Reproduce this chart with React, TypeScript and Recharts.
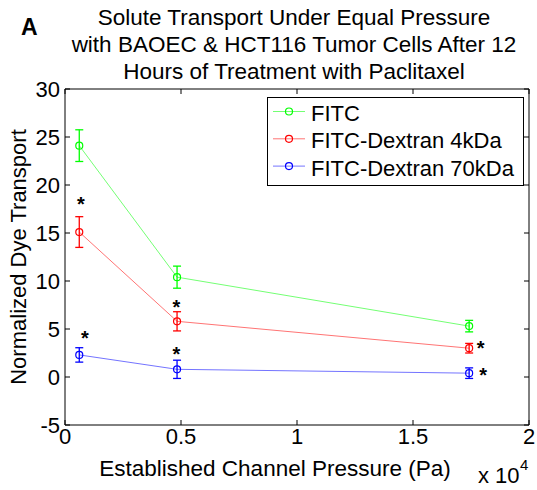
import { ComposedChart, Line, Scatter, XAxis, YAxis, ErrorBar, Legend } from 'recharts'

// channel pressure (Pa) at each measurement
const pressure = [615, 4830, 17420]

// normalized dye transport, mean and error per tracer
const fitc = [24.1, 10.4, 5.3]
const fitcErr = [1.65, 1.15, 0.6]
const dextran4 = [15.1, 5.8, 3.0]
const dextran4Err = [1.6, 1.0, 0.5]
const dextran70 = [2.3, 0.8, 0.4]
const dextran70Err = [0.75, 0.95, 0.55]

const xTicks = [0, 5000, 10000, 15000, 20000]
const yTicks = [-5, 0, 5, 10, 15, 20, 25, 30]

// significance asterisks (pressure, value)
const starP = [690, 4800, 4800, 860, 17920, 18020]
const starV = [18.4, 7.7, 2.85, 4.5, 3.4, 0.6]

const series = [
  { key: 'fitc', name: 'FITC', color: '#00ff00', values: fitc, errors: fitcErr },
  { key: 'd4', name: 'FITC-Dextran 4kDa', color: '#ff0000', values: dextran4, errors: dextran4Err },
  { key: 'd70', name: 'FITC-Dextran 70kDa', color: '#0000ff', values: dextran70, errors: dextran70Err },
]

const rows = pressure.map((p, i) => {
  const row: Record<string, number> = { p }
  series.forEach((s) => {
    row[s.key] = s.values[i]
    row[s.key + 'Err'] = s.errors[i]
  })
  return row
})

const stars = starP.map((p, i) => ({ p, v: starV[i] }))

const font = "'Liberation Sans', Arial, Helvetica, sans-serif"
const tickStyle = { fill: '#000', fontSize: 22, fontFamily: font }
const noLabel = () => <g />

function LegendBox() {
  return (
    <svg width={257} height={89} style={{ display: 'block' }}>
      <rect x={0.5} y={0.5} width={256} height={88} fill="#fff" stroke="#000" />
      {series.map((s, i) => {
        const base = 24 + i * 27.3
        return (
          <g key={s.key}>
            <line x1={6} x2={38} y1={base - 9.5} y2={base - 9.5} stroke={s.color} strokeOpacity={0.55} />
            <circle cx={22} cy={base - 9.5} r={3.5} fill="none" stroke={s.color} strokeWidth={1.2} />
            <text x={44} y={base} fontSize={22} fontFamily={font} fill="#000">
              {s.name}
            </text>
          </g>
        )
      })}
    </svg>
  )
}

export default function App() {
  return (
    <div style={{ position: 'fixed', left: 0, top: 0, width: 537, height: 490, background: '#fff' }}>
      <ComposedChart width={537} height={490} data={rows} margin={{ top: 89, right: 8, bottom: 35, left: 15 }}>
        <XAxis
          xAxisId="x"
          dataKey="p"
          type="number"
          domain={[0, 20000]}
          ticks={xTicks}
          interval={0}
          allowDataOverflow
          tickFormatter={(v: number) => String(v / 10000)}
          tickLine={false}
          tickSize={0}
          tickMargin={3}
          height={30}
          axisLine={{ stroke: '#000' }}
          tick={tickStyle}
        />
        <XAxis xAxisId="xb" dataKey="p" type="number" domain={[0, 20000]} ticks={xTicks} interval={0} allowDataOverflow
          mirror axisLine={false} tickSize={5} tickLine={{ stroke: '#000' }} tick={noLabel} />
        <XAxis xAxisId="xt" orientation="top" dataKey="p" type="number" domain={[0, 20000]} ticks={xTicks} interval={0}
          allowDataOverflow mirror axisLine={{ stroke: '#000' }} tickSize={5} tickLine={{ stroke: '#000' }} tick={noLabel} />
        <YAxis
          yAxisId="y"
          type="number"
          domain={[-5, 30]}
          ticks={yTicks}
          interval={0}
          allowDataOverflow
          width={50}
          tickLine={false}
          tickSize={0}
          tickMargin={5}
          axisLine={{ stroke: '#000' }}
          tick={tickStyle}
        />
        <YAxis yAxisId="yl" type="number" domain={[-5, 30]} ticks={yTicks} interval={0} allowDataOverflow
          mirror axisLine={false} tickSize={5} tickLine={{ stroke: '#000' }} tick={noLabel} />
        <YAxis yAxisId="yr" orientation="right" type="number" domain={[-5, 30]} ticks={yTicks} interval={0}
          allowDataOverflow mirror axisLine={{ stroke: '#000' }} tickSize={5} tickLine={{ stroke: '#000' }} tick={noLabel} />

        {series.map((s) => (
          <Line
            key={s.key}
            xAxisId="x"
            yAxisId="y"
            dataKey={s.key}
            name={s.name}
            stroke={s.color}
            strokeOpacity={0.55}
            strokeWidth={1}
            isAnimationActive={false}
            dot={(d: any) => (
              <circle key={d.index} cx={d.cx} cy={d.cy} r={3.5} fill="none" stroke={s.color} strokeWidth={1.2} />
            )}
            activeDot={false}
          >
            <ErrorBar dataKey={s.key + 'Err'} direction="y" width={4} stroke={s.color} strokeWidth={1.3} />
          </Line>
        ))}

        <Scatter
          xAxisId="x"
          yAxisId="y"
          data={stars}
          dataKey="v"
          isAnimationActive={false}
          shape={(d: any) => (
            <text x={d.cx} y={d.cy + 11} textAnchor="middle" fontSize={20} fontWeight="bold" fontFamily={font} fill="#000">
              *
            </text>
          )}
          legendType="none"
        />

        <Legend
          layout="vertical"
          align="center"
          verticalAlign="middle"
          wrapperStyle={{ left: 267, top: 97, width: 257, height: 89 }}
          content={() => <LegendBox />}
        />
      </ComposedChart>

      <svg width={537} height={490} style={{ position: 'absolute', left: 0, top: 0, pointerEvents: 'none' }}>
        <text x={21} y={35} fontSize={23} fontWeight="bold" fontFamily={font} fill="#000">
          A
        </text>
        <g fontSize={22.5} fontFamily={font} fill="#000" textAnchor="middle">
          <text x={294} y={25}>Solute Transport Under Equal Pressure</text>
          <text x={294} y={52}>with BAOEC &amp; HCT116 Tumor Cells After 12</text>
          <text x={294} y={79}>Hours of Treatment with Paclitaxel</text>
        </g>
        <text x={275} y={476} fontSize={22.5} fontFamily={font} fill="#000" textAnchor="middle">
          Established Channel Pressure (Pa)
        </text>
        <text x={478} y={483} fontSize={22} fontFamily={font} fill="#000">
          x 10
        </text>
        <text x={520} y={470} fontSize={15} fontFamily={font} fill="#000">
          4
        </text>
        <text
          x={0}
          y={0}
          transform="translate(26,257) rotate(-90)"
          fontSize={22}
          fontFamily={font}
          fill="#000"
          textAnchor="middle"
        >
          Normalized Dye Transport
        </text>
      </svg>
    </div>
  )
}
